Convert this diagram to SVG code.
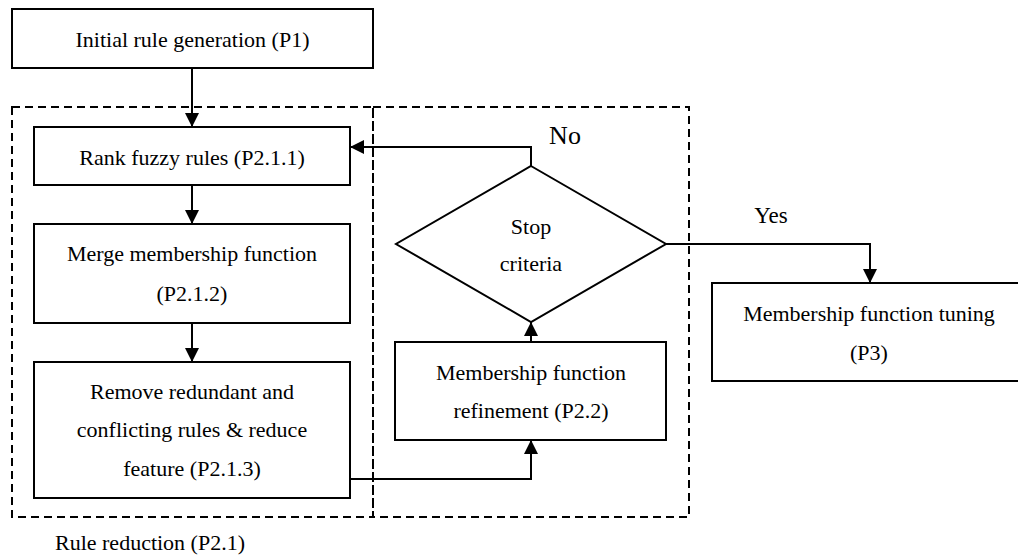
<svg xmlns="http://www.w3.org/2000/svg" width="1018" height="558" viewBox="0 0 1018 558">
<defs>
<style>
.box{fill:#fff;stroke:#000;stroke-width:2}
.dash{fill:none;stroke:#000;stroke-width:2;stroke-dasharray:8,5}
.t{font-family:"Liberation Serif","Times New Roman",serif;font-size:22px;fill:#000;text-anchor:middle}
.conn path{fill:none;stroke:#000;stroke-width:2;marker-end:url(#arr)}
</style>
<marker id="arr" markerUnits="userSpaceOnUse" markerWidth="14" markerHeight="14" refX="14" refY="7" orient="auto" viewBox="0 0 14 14">
<path d="M0,0 L14,7 L0,14 z" fill="#000"/>
</marker>
</defs>
<rect width="1018" height="558" fill="#fff"/>
<g id="group-rule-reduction">
<rect class="dash" x="12" y="107" width="361" height="410"/>
<rect class="dash" x="373" y="107" width="316" height="410"/>
<text class="t" x="150" y="550">Rule reduction (P2.1)</text>
</g>
<g id="p1">
<rect class="box" x="12" y="9" width="361" height="59"/>
<text class="t" x="192.5" y="47">Initial rule generation (P1)</text>
</g>
<g id="p211">
<rect class="box" x="34" y="127" width="316" height="58"/>
<text class="t" x="192" y="165">Rank fuzzy rules (P2.1.1)</text>
</g>
<g id="p212">
<rect class="box" x="34" y="224" width="316" height="99"/>
<text class="t" x="192" y="261">Merge membership function</text>
<text class="t" x="192" y="301">(P2.1.2)</text>
</g>
<g id="p213">
<rect class="box" x="34" y="362" width="316" height="136"/>
<text class="t" x="192" y="399">Remove redundant and</text>
<text class="t" x="192" y="437">conflicting rules &amp; reduce</text>
<text class="t" x="192" y="476">feature (P2.1.3)</text>
</g>
<g id="p22">
<rect class="box" x="395" y="342" width="271" height="98"/>
<text class="t" x="531" y="380">Membership function</text>
<text class="t" x="531" y="418">refinement (P2.2)</text>
</g>
<g id="stop">
<polygon class="box" points="531,166 666,244 531,322 396,244"/>
<text class="t" x="531" y="234">Stop</text>
<text class="t" x="531" y="271">criteria</text>
</g>
<g id="p3">
<rect class="box" x="712" y="283" width="314" height="98"/>
<text class="t" x="869" y="321">Membership function tuning</text>
<text class="t" x="869" y="360">(P3)</text>
</g>
<g id="connectors" class="conn">
<path d="M192,68 V127"/>
<path d="M192,185 V224"/>
<path d="M192,323 V362"/>
<path d="M350,479 H531 V440"/>
<path d="M531,342 V322"/>
<path d="M531,166 V147 H350"/>
<path d="M666,244 H870 V283"/>
</g>
<g id="labels">
<text class="t" x="565" y="144" style="font-size:26px">No</text>
<text class="t" x="771" y="223" style="font-size:23px">Yes</text>
</g>
</svg>
